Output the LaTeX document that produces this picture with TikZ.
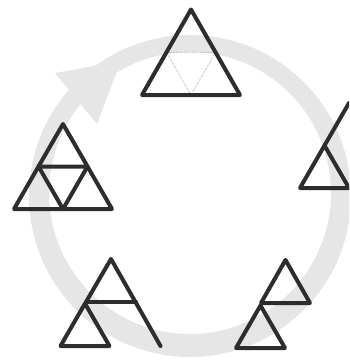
\documentclass[tikz,border=0pt]{standalone}
\definecolor{ringgray}{RGB}{230,230,230}
\definecolor{darkline}{RGB}{45,45,45}
\begin{document}
\begin{tikzpicture}[x=1pt,y=-1pt,
  tri/.style={draw=darkline, line width=4pt, line join=round, line cap=round},
  plan/.style={draw=black!45, line width=0.6pt, densely dotted}]
\useasboundingbox (0,0) rectangle (349,362);
\clip (0,0) rectangle (349,362);
% cycle ring with arrow head
\fill[ringgray, even odd rule] (190,196) circle[radius=161pt] (190,193) circle[radius=141pt];
\fill[ringgray] (55,73) -- (97,124) -- (121,61) -- cycle;
% top: whole triangle with planned cuts
\coordinate (tA) at (191,9.5);
\coordinate (tL) at (142,95);
\coordinate (tR) at (240,95);
\draw[plan] (166.5,52.25) -- (215.5,52.25) -- (191,95) -- cycle;
\draw[tri] (tA) -- (tL) -- (tR) -- cycle;
% right: first cut
\coordinate (rA) at (349,103);
\coordinate (rL) at (300,188);
\coordinate (rR) at (398,188);
\draw[tri] (rA) -- (rL) -- (rR) -- cycle;
\draw[tri] (324.5,145.5) -- (349,188);
% bottom right: two pieces
\draw[tri] (285.5,260) -- (261,303) -- (310,303) -- cycle;
\draw[tri] (260.5,305.5) -- (236,348) -- (285,348) -- cycle;
% bottom left
\draw[tri] (86,302) -- (111,259) -- (160.5,346);
\draw[tri] (86,302) -- (136,302);
\draw[tri] (85,303.5) -- (60.5,346) -- (109.5,346) -- cycle;
% left: full subdivision
\coordinate (lA) at (63,124);
\coordinate (lL) at (14,209);
\coordinate (lR) at (112,209);
\draw[tri] (lA) -- (lL) -- (lR) -- cycle;
\draw[tri] (38.5,166.5) -- (87.5,166.5) -- (63,209) -- cycle;
\end{tikzpicture}
\end{document}
